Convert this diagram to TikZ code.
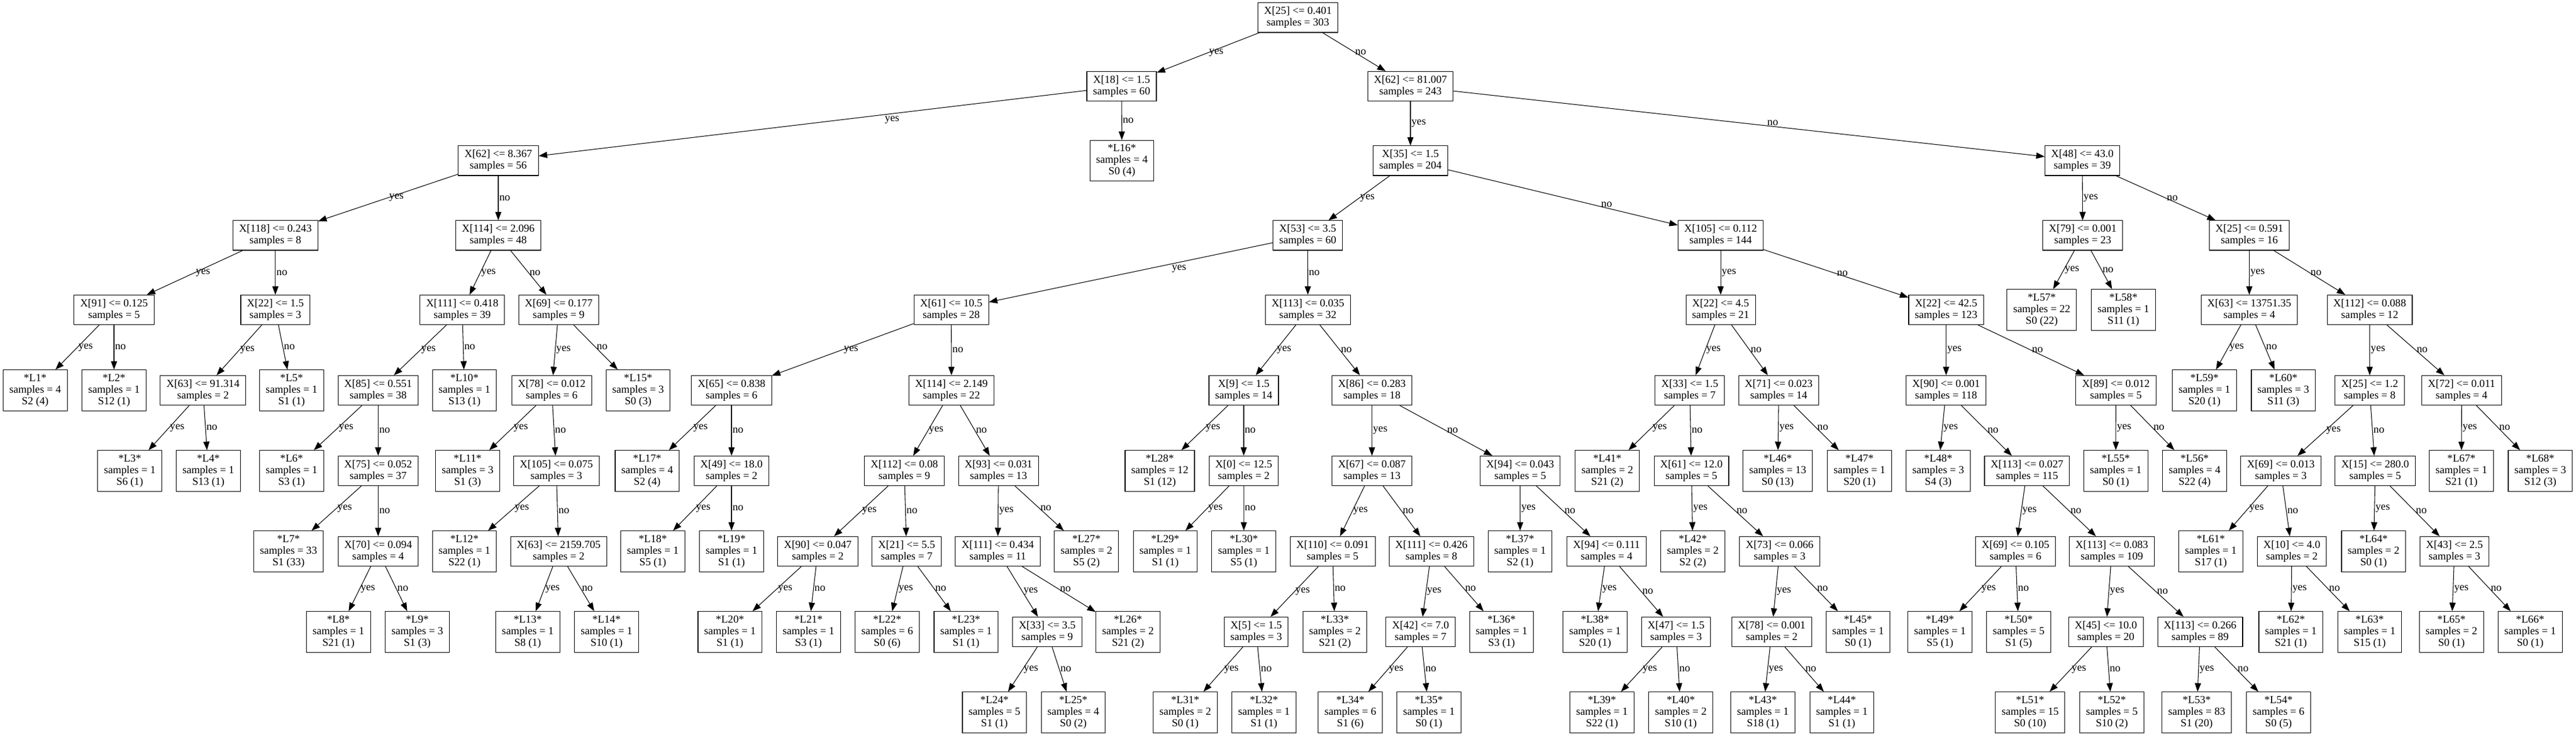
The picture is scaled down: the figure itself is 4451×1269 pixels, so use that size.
\documentclass[tikz,border=0pt]{standalone}
\usepackage{fontspec}
\setmainfont{Liberation Serif}
\usetikzlibrary{arrows.meta}

\begin{document}
\begin{tikzpicture}[x=0.75pt, y=-0.75pt,
    box/.style={draw, line width=0.8pt, align=center, inner xsep=8pt, inner ysep=1pt,
        font=\fontsize{14}{15}\selectfont},
    cond/.style={box, minimum height=38.3pt},
    leaf/.style={box, minimum height=52.9pt},
    link/.style={line width=0.8pt, -{Triangle[length=11pt, width=8pt]}},
    lbl/.style={anchor=west, inner sep=1pt, font=\fontsize{14}{15}\selectfont}]

    % Hintergrund und Rahmen
    \fill[white] (0,0) rectangle (4451,1269);
    \useasboundingbox (0,0) rectangle (4451,1269);

    % Höhen der Ränge (in Pixeln)
    \def\ranky{{30.5,149,277.5,406.5,535,674,813,952,1091,1230}}

    % Entscheidungsknoten: Name/Merkmal/Schwelle/Samples/x/Rang
    \foreach \name/\feat/\thr/\smp/\xpos/\rank in {
            r/25/0.401/303/2242.6/0,
            x18/18/1.5/60/1938/1, x62a/62/81.007/243/2437/1,
            x62b/62/8.367/56/861/2, x35/35/1.5/204/2437/2, x48/48/43.0/39/3598/2,
            x118/118/0.243/8/475.8/3, x114a/114/2.096/48/861/3, x53/53/3.5/60/2259.6/3,
            x105a/105/0.112/144/2973/3, x79/79/0.001/23/3598.6/3, x25b/25/0.591/16/3886.6/3,
            x91/91/0.125/5/197/4, x22a/22/1.5/3/475.8/4, x111a/111/0.418/39/798.7/4,
            x69a/69/0.177/9/965.4/4, x61a/61/10.5/28/1643.6/4, x113a/113/0.035/32/2259.8/4,
            x22b/22/4.5/21/2973/4, x22c/22/42.5/123/3362.6/4, x63a/63/13751.35/4/3886.4/4,
            x112a/112/0.088/12/4094.5/4,
            x63b/63/91.314/2/350.7/5, x85/85/0.551/38/653.4/5, x78a/78/0.012/6/953.3/5,
            x65/65/0.838/6/1264/5, x114b/114/2.149/22/1644/5, x9/9/1.5/14/2149/5,
            x86/86/0.283/18/2370.5/5, x33a/33/1.5/7/2919.7/5, x71/71/0.023/14/3073.4/5,
            x90a/90/0.001/118/3362.6/5, x89/89/0.012/5/3656/5, x25c/25/1.2/8/4094.5/5,
            x72/72/0.011/4/4253.3/5,
            x75/75/0.052/37/653.4/6, x105b/105/0.075/3/961.3/6, x49/49/18.0/2/1264/6,
            x112b/112/0.08/9/1562.6/6, x93/93/0.031/13/1725.3/6, x0/0/12.5/2/2149/6,
            x67/67/0.087/13/2370.5/6, x94a/94/0.043/5/2626.7/6, x61b/61/12.0/5/2922.5/6,
            x113b/113/0.027/115/3502.4/6, x69b/69/0.013/3/3941/6, x15/15/280.0/5/4104/6,
            x70/70/0.094/4/653.4/7, x63c/63/2159.705/2/965.2/7, x90b/90/0.047/2/1413/7,
            x21/21/5.5/7/1566.5/7, x111b/111/0.434/11/1724/7, x110/110/0.091/5/2302.6/7,
            x111c/111/0.426/8/2473.3/7, x94b/94/0.111/4/2776/7, x73/73/0.066/3/3075/7,
            x69c/69/0.105/6/3482.5/7, x113c/113/0.083/109/3649/7, x10/10/4.0/2/3960/7,
            x43/43/2.5/3/4241/7,
            x33b/33/3.5/9/1809.4/8, x5/5/1.5/3/2170.5/8, x42/42/7.0/7/2454.6/8,
            x47/47/1.5/3/2896/8, x78b/78/0.001/2/3061.3/8, x45/45/10.0/20/3638.6/8,
            x113d/113/0.266/89/3801.5/8} {
        \pgfmathsetmacro\yy{\ranky[\rank]}
        \node[cond] (\name) at (\xpos,\yy) {X[\feat] <= \thr\\samples = \smp};
    }

    % Blätter: Nummer/Samples/Klasse/Anzahl/x/Rang
    \foreach \i/\smp/\cl/\cn/\xpos/\rank in {
            1/4/2/4/60.8/5, 2/1/12/1/197/5, 3/1/6/1/224.2/6, 4/1/13/1/360/6,
            5/1/1/1/503.9/5, 6/1/3/1/503.9/6, 7/33/1/33/498.5/7, 8/1/21/1/584.8/8,
            9/3/1/3/721/8, 10/1/13/1/802.5/5, 11/3/1/3/808/6, 12/1/22/1/802.5/7,
            13/1/8/1/911.9/8, 14/1/10/1/1048/8, 15/3/0/3/1102.6/5, 16/4/0/4/1938.5/2,
            17/4/2/4/1118.3/6, 18/1/5/1/1128/7, 19/1/1/1/1264/7, 20/1/1/1/1261.3/8,
            21/1/3/1/1397/8, 22/6/0/6/1533/8, 23/1/1/1/1669.3/8, 24/5/1/1/1718.3/9,
            25/4/0/2/1854.5/9, 26/2/21/2/1949/8, 27/2/5/2/1877.2/7, 28/12/1/12/2004/6,
            29/1/1/1/2013.4/7, 30/1/5/1/2149.2/7, 31/2/0/1/2047.9/9, 32/1/1/1/2184/9,
            33/2/21/2/2306.5/8, 34/6/1/6/2333.2/9, 35/1/0/1/2468.9/9, 36/1/3/1/2594.5/8,
            37/1/2/1/2626.5/7, 38/1/20/1/2756/8, 39/1/22/1/2768/9, 40/2/10/1/2904.2/9,
            41/2/21/2/2777.2/6, 42/2/2/2/2925/7, 43/1/18/1/3046/9, 44/1/1/1/3182.5/9,
            45/1/0/1/3210.4/8, 46/13/0/13/3071.7/6, 47/1/20/1/3213/6, 48/3/4/3/3349/6,
            49/1/5/1/3352/8, 50/5/1/5/3488/8, 51/15/0/10/3507.8/9, 52/5/10/2/3649/9,
            53/83/1/20/3795.6/9, 54/6/0/5/3937/9, 55/1/0/1/3655.8/6, 56/4/22/4/3792/6,
            57/22/0/22/3527.9/4, 58/1/11/1/3669/4, 59/1/20/1/3809/5, 60/3/11/3/3945.3/5,
            61/1/17/1/3820/7, 62/1/21/1/3958.3/8, 63/1/15/1/4094.5/8, 64/2/0/1/4101.3/7,
            65/2/0/1/4235.8/8, 66/1/0/1/4371.8/8, 67/1/21/1/4253/6, 68/3/12/3/4389.3/6} {
        \pgfmathsetmacro\yy{\ranky[\rank]}
        \node[leaf] (L\i) at (\xpos,\yy) {*L\i*\\samples = \smp\\S\cl{} (\cn)};
    }

    % Kanten: Eltern/ja/nein
    \foreach \p/\a/\b in {
            r/x18/x62a, x62b/x118/x114a, x48/x79/x25b, x118/x91/x22a,
            x114a/x111a/x69a, x105a/x22b/x22c, x79/L57/L58, x25b/x63a/x112a,
            x91/L1/L2, x22a/x63b/L5, x111a/x85/L10, x69a/x78a/L15, x61a/x65/x114b,
            x113a/x9/x86, x22b/x33a/x71, x22c/x90a/x89, x63a/L59/L60, x112a/x25c/x72,
            x63b/L3/L4, x85/L6/x75, x78a/L11/x105b, x65/L17/x49, x114b/x112b/x93,
            x9/L28/x0, x86/x67/x94a, x33a/L41/x61b, x71/L46/L47, x90a/L48/x113b,
            x89/L55/L56, x25c/x69b/x15, x72/L67/L68, x75/L7/x70, x105b/L12/x63c,
            x49/L18/L19, x112b/x90b/x21, x93/x111b/L27, x0/L29/L30, x67/x110/x111c,
            x94a/L37/x94b, x61b/L42/x73, x113b/x69c/x113c, x69b/L61/x10, x15/L64/x43,
            x70/L8/L9, x63c/L13/L14, x90b/L20/L21, x21/L22/L23, x111b/x33b/L26,
            x110/x5/L33, x111c/x42/L36, x94b/L38/x47, x73/x78b/L45, x69c/L49/L50,
            x113c/x45/x113d, x10/L62/L63, x43/L65/L66, x33b/L24/L25, x5/L31/L32,
            x42/L34/L35, x47/L39/L40, x78b/L43/L44, x45/L51/L52, x113d/L53/L54} {
        \draw[link] (\p) -- node[lbl] {yes} (\a);
        \draw[link] (\p) -- node[lbl] {no} (\b);
    }

    % lange Kanten, Beschriftung verschoben
    \draw[link] (x18) -- node[lbl, pos=0.355, anchor=north, yshift=-2pt] {yes} (x62b);
    \draw[link] (x18) -- node[lbl] {no} (L16);
    \draw[link] (x62a) -- node[lbl] {yes} (x35);
    \draw[link] (x62a) -- node[lbl, pos=0.54, anchor=south] {no} (x48);
    \draw[link] (x35) -- node[lbl] {yes} (x53);
    \draw[link] (x35) -- node[lbl, pos=0.69, anchor=south] {no} (x105a);
    \draw[link] (x53) -- node[lbl, pos=0.33, anchor=north, yshift=-2pt] {yes} (x61a);
    \draw[link] (x53) -- node[lbl] {no} (x113a);
\end{tikzpicture}
\end{document}
